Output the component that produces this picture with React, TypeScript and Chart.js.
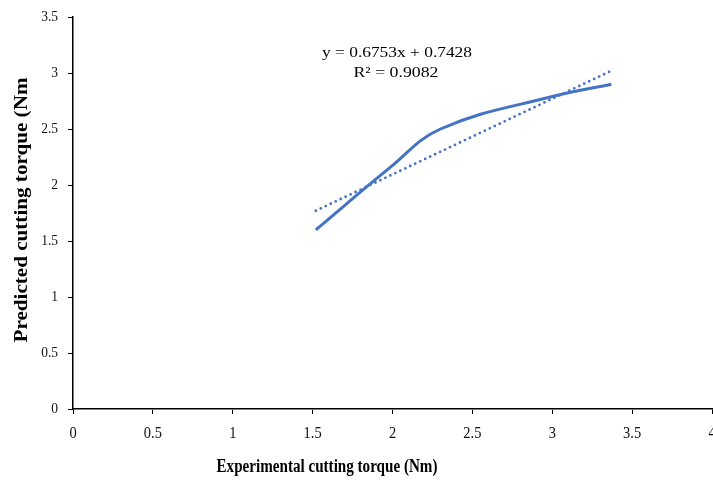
import React, { useEffect, useRef } from "react";
import { Chart, registerables } from "chart.js";

Chart.register(...registerables);

const expX = [1.52, 1.98, 2.3, 3.0, 3.37];
const predY = [1.6, 2.15, 2.5, 2.79, 2.9];
const trendX = [1.52, 3.37];
const trendY = [1.77, 3.02];
const xTitle = "Experimental cutting torque (Nm)";
const yTitle = "Predicted cutting torque (Nm";
const eqLines = ["y = 0.6753x + 0.7428", "R² = 0.9082"];

const SERIF = "'Liberation Serif', 'Times New Roman', serif";

function drawFit(ctx: any, text: string, cx: number, cy: number, w: number, rot = 0) {
  const m = ctx.measureText(text).width;
  ctx.save();
  ctx.translate(cx, cy);
  if (rot) ctx.rotate(rot);
  ctx.scale(w / m, 1);
  ctx.fillText(text, 0, 0);
  ctx.restore();
}

function drawScaled(ctx: any, text: string, x: number, y: number, sx: number) {
  ctx.save();
  ctx.translate(x, y);
  ctx.scale(sx, 1);
  ctx.fillText(text, 0, 0);
  ctx.restore();
}

const fmt = (v: any) => String(Number(v));

const textPlugin = {
  id: "textPlugin",
  afterDraw(chart: any) {
    const ctx = chart.ctx;
    const xs = chart.scales.x;
    const ys = chart.scales.y;
    ctx.save();
    ctx.fillStyle = "#111";
    ctx.textBaseline = "middle";
    // x tick labels
    ctx.textAlign = "center";
    ctx.font = `17px ${SERIF}`;
    xs.ticks.forEach((t: any) => {
      drawScaled(ctx, fmt(t.value), xs.getPixelForValue(t.value), 434, 0.85);
    });
    // y tick labels
    ctx.textAlign = "right";
    ctx.font = `15px ${SERIF}`;
    ys.ticks.forEach((t: any) => {
      drawScaled(ctx, fmt(t.value), 58, ys.getPixelForValue(t.value), 0.9);
    });
    ctx.fillStyle = "#000";
    ctx.textAlign = "center";
    ctx.font = `bold 18px ${SERIF}`;
    drawFit(ctx, xTitle, 327, 467, 221);
    ctx.font = `bold 18px ${SERIF}`;
    drawFit(ctx, yTitle, 22, 210, 265, -Math.PI / 2);
    ctx.font = `15px ${SERIF}`;
    drawFit(ctx, eqLines[0], 397, 53, 150);
    drawFit(ctx, eqLines[1], 396, 73, 85);
    ctx.restore();
  },
};

export default function App() {
  const ref = useRef<HTMLCanvasElement>(null);
  useEffect(() => {
    document.body.style.margin = "0";
    const chart = new Chart(ref.current!, {
      type: "scatter",
      data: {
        datasets: [
          {
            data: expX.map((x, i) => ({ x, y: predY[i] })),
            showLine: true,
            borderColor: "#4472C4",
            borderWidth: 3,
            pointRadius: 0,
            tension: 0.4,
          },
          {
            data: trendX.map((x, i) => ({ x, y: trendY[i] })),
            showLine: true,
            borderColor: "#4472C4",
            borderWidth: 2.8,
            borderDash: [0, 5.5],
            borderCapStyle: "round",
            pointRadius: 0,
          },
        ],
      },
      options: {
        animation: false,
        responsive: false,
        layout: { padding: { top: 17, right: 1, left: 0, bottom: 0 } },
        plugins: { legend: { display: false }, tooltip: { enabled: false } },
        scales: {
          x: {
            type: "linear",
            min: 0,
            max: 4,
            ticks: { stepSize: 0.5, display: false },
            grid: { drawOnChartArea: false, color: "#000", tickLength: 5 },
            border: { color: "#000", width: 1.5 },
            afterFit: (s: any) => {
              s.height = 72;
              s.paddingLeft = 0;
              s.paddingRight = 0;
            },
          },
          y: {
            type: "linear",
            min: 0,
            max: 3.5,
            ticks: { stepSize: 0.5, display: false },
            grid: { drawOnChartArea: false, color: "#000", tickLength: 5 },
            border: { color: "#000", width: 1.5 },
            afterFit: (s: any) => {
              s.width = 73;
              s.paddingTop = 0;
              s.paddingBottom = 0;
            },
          },
        },
      },
      plugins: [textPlugin],
    });
    return () => chart.destroy();
  }, []);
  return (
    <div style={{ width: 713, height: 481 }}>
      <canvas ref={ref} width={713} height={481} />
    </div>
  );
}
